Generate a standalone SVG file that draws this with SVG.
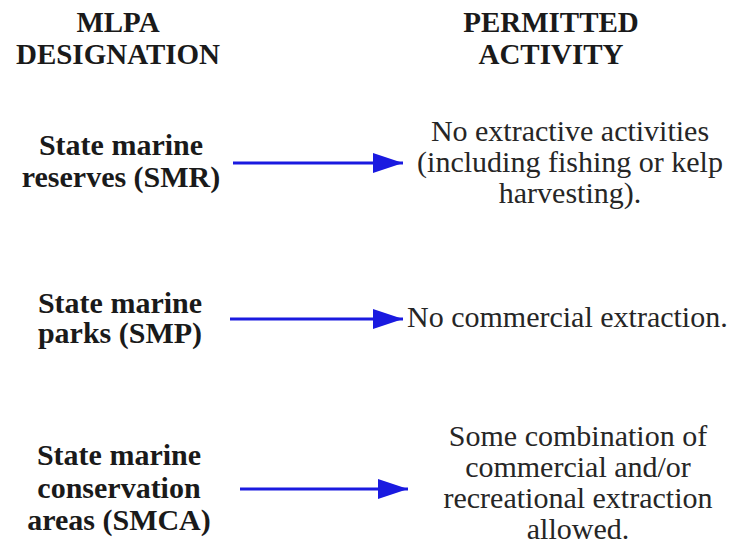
<svg xmlns="http://www.w3.org/2000/svg" width="745" height="550" viewBox="0 0 745 550">
<style>
.h{font-family:"Liberation Serif","Times New Roman",serif;font-weight:bold;font-size:29px;fill:#1a1a1a;text-anchor:middle}
.l{font-family:"Liberation Serif","Times New Roman",serif;font-weight:bold;font-size:30px;fill:#1a1a1a;text-anchor:middle}
.r{font-family:"Liberation Serif","Times New Roman",serif;font-size:30px;fill:#262626;text-anchor:middle}
.c{stroke:#1a1ae0;stroke-width:3.2;fill:none}
</style>
<defs>
<marker id="ah" markerUnits="userSpaceOnUse" markerWidth="32" markerHeight="22" refX="31" refY="11" orient="auto">
<path d="M1,1 L31,11 L1,21 Z" fill="#1a1ae0"/>
</marker>
</defs>
<rect width="745" height="550" fill="#ffffff"/>
<g id="header-left"><text class="h" x="118" y="32">MLPA</text><text class="h" x="118" y="64">DESIGNATION</text></g>
<g id="header-right"><text class="h" x="551" y="32">PERMITTED</text><text class="h" x="551" y="64">ACTIVITY</text></g>
<g id="smr"><text class="l" x="121" y="155">State marine</text><text class="l" x="121" y="187">reserves (SMR)</text></g>
<g id="smr-activity"><text class="r" x="570" y="141">No extractive activities</text><text class="r" x="570" y="172">(including fishing or kelp</text><text class="r" x="570" y="203">harvesting).</text></g>
<g id="smp"><text class="l" x="120" y="313">State marine</text><text class="l" x="120" y="343">parks (SMP)</text></g>
<g id="smp-activity"><text class="r" x="407" y="327" style="text-anchor:start">No commercial extraction.</text></g>
<g id="smca"><text class="l" x="119" y="465">State marine</text><text class="l" x="119" y="498">conservation</text><text class="l" x="119" y="530">areas (SMCA)</text></g>
<g id="smca-activity"><text class="r" x="578" y="446">Some combination of</text><text class="r" x="578" y="477">commercial and/or</text><text class="r" x="578" y="508">recreational extraction</text><text class="r" x="578" y="539">allowed.</text></g>
<g id="connectors">
<line class="c" x1="233" y1="163" x2="403" y2="163" marker-end="url(#ah)"/>
<line class="c" x1="230" y1="319" x2="403" y2="319" marker-end="url(#ah)"/>
<line class="c" x1="240" y1="489" x2="408" y2="489" marker-end="url(#ah)"/>
</g>
</svg>
